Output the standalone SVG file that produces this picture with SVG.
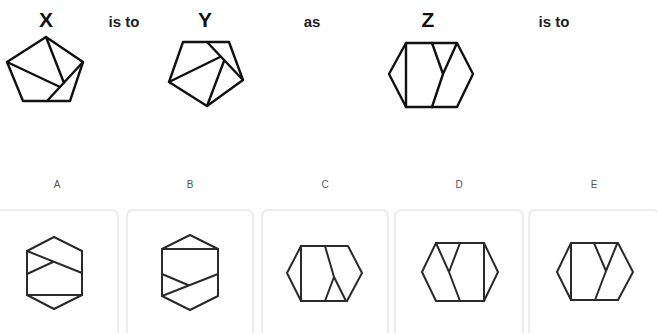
<svg xmlns="http://www.w3.org/2000/svg" width="657" height="333" viewBox="0 0 657 333">
<style>
.big{font-family:"Liberation Sans",Arial,sans-serif;font-weight:bold;font-size:21px;fill:#111;text-anchor:middle}
.mid{font-family:"Liberation Sans",Arial,sans-serif;font-weight:bold;font-size:15px;fill:#222;text-anchor:middle}
.opt{font-family:"Liberation Sans",Arial,sans-serif;font-size:10px;fill:#555;text-anchor:middle}
.q{fill:none;stroke:#111;stroke-width:2.4;stroke-linejoin:round;stroke-linecap:round}
.a{fill:none;stroke:#2a2a2a;stroke-width:2;stroke-linejoin:round;stroke-linecap:round}
.box{fill:#fff;stroke:#e6e6e6;stroke-width:1.5}
</style>
<rect width="657" height="333" fill="#fff"/>
<g id="header">
<text class="big" x="46" y="27">X</text>
<text class="mid" x="124" y="27">is to</text>
<text class="big" x="205" y="27">Y</text>
<text class="mid" x="312" y="27">as</text>
<text class="big" x="428" y="27">Z</text>
<text class="mid" x="554" y="27">is to</text>
</g>
<g id="figX">
<polygon class="q" points="46,37 83,62 70,101 23,101 7,62"/>
<path class="q" d="M83,62 L47,101 M7,62 L60,87 M46,37 L64,83"/>
</g>
<g id="figY">
<polygon class="q" points="183,42 229,42 243,80 207,106 169,82"/>
<path class="q" d="M207,42 L243,80 M169,82 L220,57 M207,106 L224,61"/>
</g>
<g id="figZ">
<polygon class="q" points="406,43 457,43 473,74 457,107 406,107 389,74"/>
<path class="q" d="M406,43 L406,107 M432,43 L443,74 M457,43 L443,74 L432,107"/>
</g>
<g id="optA">
<rect class="box" x="-8" y="210" width="126" height="140" rx="6"/>
<text class="opt" x="57" y="188">A</text>
<polygon class="a" points="54,237 82,251 82,295 54,309 27,295 27,251"/>
<path class="a" d="M27,295 L82,295 M27,251 L82,273 M53,262 L27,274"/>
</g>
<g id="optB">
<rect class="box" x="127" y="210" width="126" height="140" rx="6"/>
<text class="opt" x="190" y="188">B</text>
<polygon class="a" points="190,235 218,249 218,296 190,310 162,296 162,249"/>
<path class="a" d="M162,249 L218,249 M162,274 L188,285 M162,296 L218,274"/>
</g>
<g id="optC">
<rect class="box" x="262" y="210" width="126" height="140" rx="6"/>
<text class="opt" x="325" y="188">C</text>
<polygon class="a" points="301,246 348,246 362,273 347,301 301,301 287,273"/>
<path class="a" d="M301,246 L301,301 M325,246 L334,277 L325,301 M334,277 L346,301"/>
</g>
<g id="optD">
<rect class="box" x="395" y="210" width="128" height="140" rx="6"/>
<text class="opt" x="459" y="188">D</text>
<polygon class="a" points="436,243 484,243 498,272 484,301 436,301 422,272"/>
<path class="a" d="M484,243 L484,301 M436,243 L449,272 M460,243 L449,272 L460,301"/>
</g>
<g id="optE">
<rect class="box" x="529" y="210" width="130" height="140" rx="6"/>
<text class="opt" x="594" y="188">E</text>
<polygon class="a" points="571,243 618,243 633,272 618,300 571,300 557,272"/>
<path class="a" d="M571,243 L571,300 M594,243 L606,271 M617,244 L606,271 L595,300"/>
</g>
</svg>
